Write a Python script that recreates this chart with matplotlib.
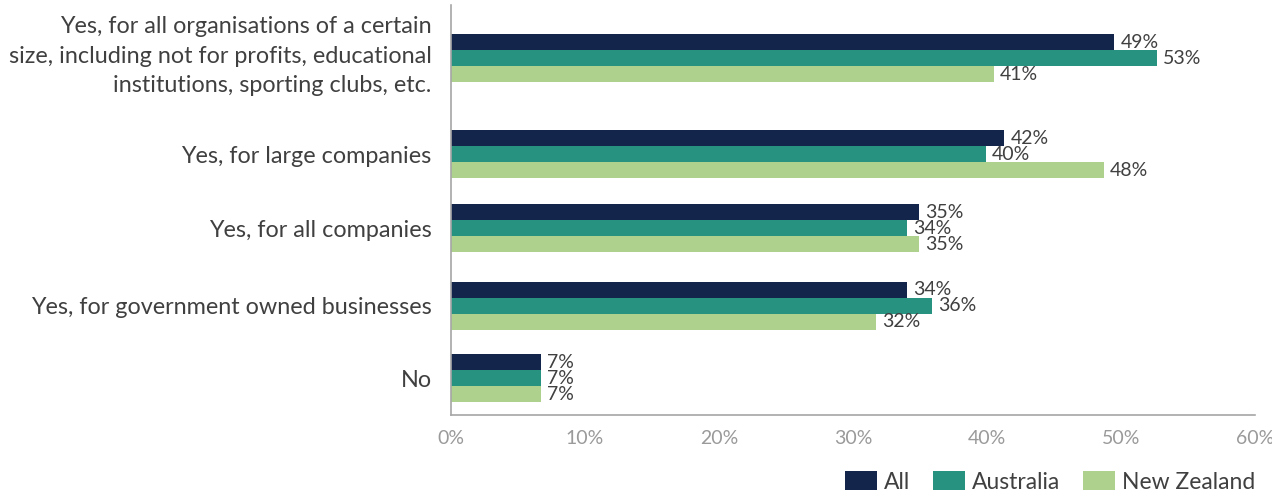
import matplotlib.pyplot as plt
import matplotlib.transforms as mtransforms
import numpy as np

plt.rcParams['font.family'] = ['Lato', 'DejaVu Sans']

categories = [
    "Yes, for all organisations of a certain\nsize, including not for profits, educational\ninstitutions, sporting clubs, etc.",
    "Yes, for large companies",
    "Yes, for all companies",
    "Yes, for government owned businesses",
    "No",
]
series = ["All", "Australia", "New Zealand"]
all_vals = [49.5, 41.3, 34.9, 34.0, 6.7]
aus_vals = [52.7, 39.9, 34.0, 35.9, 6.7]
nz_vals = [40.5, 48.7, 34.9, 31.7, 6.7]
all_labels = ["49%", "42%", "35%", "34%", "7%"]
aus_labels = ["53%", "40%", "34%", "36%", "7%"]
nz_labels = ["41%", "48%", "35%", "32%", "7%"]

colors = ["#13254b", "#27927f", "#aed18e"]
text_col = "#404040"
grey = "#a6a6a6"

# group centres (first group gets a bit more room for the 3-line label)
ypos = np.array([0.0, 1.28, 2.27, 3.30, 4.27])
h = 0.213

fig = plt.figure(figsize=(12.72, 4.95), dpi=100)
ax = fig.add_axes([0.3546, 0.1616, 0.6320, 0.8284])

for i, (vals, labs) in enumerate(zip([all_vals, aus_vals, nz_vals],
                                     [all_labels, aus_labels, nz_labels])):
    y = ypos + (i - 1) * h
    ax.barh(y, vals, height=h, color=colors[i], label=series[i])
    for yy, v, t in zip(y, vals, labs):
        ax.text(v + 0.45, yy, t, va='center', ha='left', fontsize=14, color=text_col)

ax.set_xlim(0, 60)
ax.set_ylim(4.27 + 0.49, 0 - 0.71)
ax.set_yticks(ypos)
ax.set_yticklabels(categories, fontsize=16.8, color=text_col, linespacing=1.5)
ax.set_xticks(np.arange(0, 61, 10))
ax.set_xticklabels([f"{x}%" for x in range(0, 61, 10)], fontsize=14, color="#9a9a9a")
ax.tick_params(axis='y', length=0, pad=14)
ax.tick_params(axis='x', length=0, pad=11)
# nudge the 3-line label up a little
first = ax.get_yticklabels()[0]
first.set_transform(first.get_transform() +
                    mtransforms.ScaledTranslation(0, 6 / 72, fig.dpi_scale_trans))
for s in ['top', 'right']:
    ax.spines[s].set_visible(False)
for s in ['left', 'bottom']:
    ax.spines[s].set_color(grey)
    ax.spines[s].set_linewidth(1.2)

leg = fig.legend(loc='lower right', bbox_to_anchor=(1.003, -0.037), ncol=3, frameon=False,
                 fontsize=16.5, handlelength=1.4, handleheight=0.9, columnspacing=1.0,
                 handletextpad=0.3)
for t in leg.get_texts():
    t.set_color(text_col)

fig.savefig("out.png", dpi=100)
